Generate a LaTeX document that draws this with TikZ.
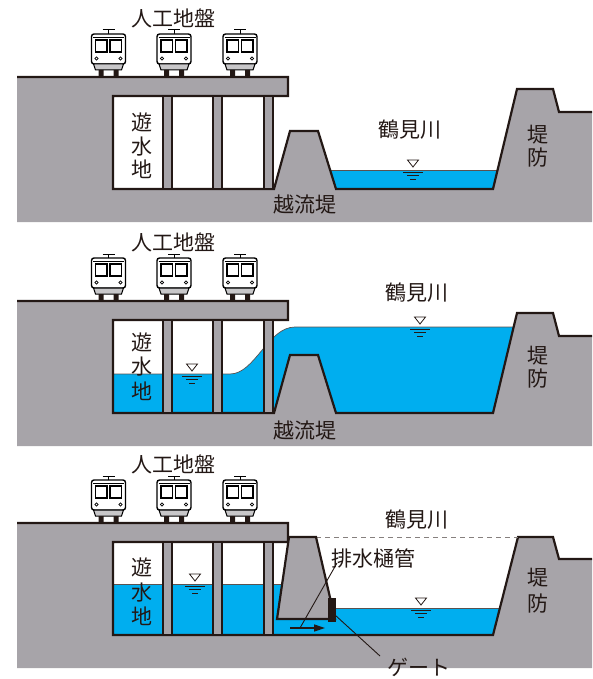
\documentclass[tikz,border=0pt]{standalone}
\usepackage{fontspec}
\newfontfamily\jp{Noto Sans CJK JP}
\usetikzlibrary{arrows.meta}
\definecolor{ground}{RGB}{167,164,169}
\definecolor{water}{RGB}{0,174,239}
\definecolor{ink}{RGB}{35,24,21}
\definecolor{skirt}{RGB}{200,199,201}

% three trains standing on the deck of the artificial ground
\newcommand\trainrow[1]{%
  \node[lbl] (deck#1) at (173,18.5) {人工地盤};
  \pic at (108.5,77) {train};
  \pic at (174,77) {train};
  \pic at (240,77) {train};
}
% support columns inside the retention basin
\newcommand\pillarset{%
  \foreach \px in {163,213,264} \draw[pillar] (\px,96) rectangle (\px+9,189);
}
% vertical label of the retention basin
\newcommand\pondlabel[4]{%
  \node[lbl] (yu#1) at (142,#2) {遊};
  \node[lbl] (sui#1) at (142,#3) {水};
  \node[lbl] (chi#1) at (142,#4) {地};
}

\begin{document}
\begin{tikzpicture}[x=1pt,y=-1pt,line join=miter,
  outline/.style={draw=ink,line width=2.2},
  earth/.style={fill=ground},
  pillar/.style={fill=ground,draw=ink,line width=2},
  lbl/.style={font=\jp\fontsize{21}{21}\selectfont,text=ink,inner sep=0},
  surface/.style={draw=ink!75,line width=0.7},
  train/.pic={
    \draw[line width=1] (-6,-47) -- (6,-47) (0,-47) -- (0,-43);
    \draw[fill=white,line width=1.4,rounded corners=2.5] (-17,-13) rectangle (17,-43);
    \draw[line width=0.7] (-15.5,-40) -- (15.5,-40);
    \draw[line width=1.2] (-13,-37) rectangle (-1.5,-25);
    \draw[line width=1.2] (1.5,-37) rectangle (13,-25);
    \draw[line width=0.8] (-12,-18.5) circle[radius=1.6] (12,-18.5) circle[radius=1.6];
    \draw[fill=skirt,line width=1] (-15,-13) -- (15,-13) -- (13,-7) -- (-13,-7) -- cycle;
    \fill[ink] (-10,-7) rectangle (-5,-0.5) (5,-7) rectangle (10,-0.5);
  },
  level/.pic={
    \draw[ink,line width=0.8] (-5.5,-10) -- (5.5,-10) -- (0,-3) -- cycle;
    \draw[ink,line width=0.9] (-10,2) -- (10,2) (-6,5.5) -- (6,5.5) (-3,9) -- (3,9);
  }]
\useasboundingbox (0,0) rectangle (592,679);

% ---------- normal water level ----------
\begin{scope}
  \fill[water] (320,170) rectangle (510,190);
  \draw[surface] (320,170) -- (510,170);
  \fill[earth] (17,77) -- (288,77) -- (288,96) -- (113,96) -- (113,189) -- (274,189)
    -- (290,131) -- (318,131) -- (336,189) -- (493,189) -- (517,89) -- (553,89)
    -- (559,112) -- (592,112) -- (592,222) -- (17,222) -- cycle;
  \draw[outline] (17,77) -- (288,77) -- (288,96) -- (113,96) -- (113,189) -- (274,189)
    -- (290,131) -- (318,131) -- (336,189) -- (493,189) -- (517,89) -- (553,89)
    -- (559,112) -- (592,112);
  \pillarset
  \pic at (413,170) {level};
  \trainrow{1}
  \pondlabel{1}{122}{147}{169}
  \node[lbl] (river1) at (410,130) {鶴見川};
  \node[lbl] (weir1) at (305,205) {越流堤};
  \node[lbl] (tei1) at (538,135) {堤};
  \node[lbl] (bo1) at (538,158) {防};
\end{scope}

% ---------- flood: water spills over the weir ----------
\begin{scope}[shift={(0,224)}]
  \fill[water] (113,150) -- (230,150) .. controls (255,150) and (268,103) .. (295,103)
    -- (530,103) -- (530,190) -- (113,190) -- cycle;
  \draw[surface] (113,150) -- (230,150) .. controls (255,150) and (268,103) .. (295,103)
    -- (530,103);
  \fill[earth] (17,77) -- (288,77) -- (288,96) -- (113,96) -- (113,189) -- (274,189)
    -- (290,131) -- (318,131) -- (336,189) -- (493,189) -- (517,89) -- (553,89)
    -- (559,112) -- (592,112) -- (592,222) -- (17,222) -- cycle;
  \draw[outline] (17,77) -- (288,77) -- (288,96) -- (113,96) -- (113,189) -- (274,189)
    -- (290,131) -- (318,131) -- (336,189) -- (493,189) -- (517,89) -- (553,89)
    -- (559,112) -- (592,112);
  \pillarset
  \pic at (192,150) {level};
  \pic at (420,103) {level};
  \trainrow{2}
  \pondlabel{2}{118}{143}{167}
  \node[lbl] (river2) at (417,69) {鶴見川};
  \node[lbl] (weir2) at (305,207) {越流堤};
  \node[lbl] (tei2) at (538,132) {堤};
  \node[lbl] (bo2) at (538,155) {防};
\end{scope}

% ---------- after the flood: drainage through the sluice pipe ----------
\begin{scope}[shift={(0,446)}]
  \fill[water] (113,138) -- (300,138) -- (300,162) -- (530,162) -- (530,190)
    -- (113,190) -- cycle;
  \draw[surface] (113,138) -- (300,138);
  \draw[surface] (330,162) -- (530,162);
  \fill[earth] (17,77) -- (288,77) -- (288,96) -- (113,96) -- (113,189) -- (493,189)
    -- (518,91) -- (553,91) -- (559,113) -- (592,113) -- (592,222) -- (17,222) -- cycle;
  \draw[outline] (17,77) -- (288,77) -- (288,96) -- (113,96) -- (113,189) -- (493,189)
    -- (518,91) -- (553,91) -- (559,113) -- (592,113);
  \draw[ink!55,line width=0.9,dash pattern=on 5 off 4] (316,91) -- (518,91);
  \pillarset
  \draw[outline,earth] (277,173) -- (289,91) -- (316,91) -- (335,173) -- cycle;
  \fill[ink] (328,152) rectangle (336,176);
  \coordinate (pipeIn) at (290,182);
  \coordinate (pipeOut) at (325,182);
  \draw[ink,line width=1.4,-{Triangle[length=11,width=7]}] (pipeIn) -- (pipeOut);
  \pic at (195,138) {level};
  \pic at (421,162) {level};
  \trainrow{3}
  \pondlabel{3}{121}{147}{170}
  \node[lbl] (river3) at (417,74) {鶴見川};
  \node[lbl] (pipe3) at (373,112) {排水樋管};
  \node[lbl] (gate3) at (419,221.5) {ゲート};
  \node[lbl] (tei3) at (538,132) {堤};
  \node[lbl] (bo3) at (538,158) {防};
  \coordinate (pipeTip) at (300,182);
  \coordinate (pipeLead) at (337,117);
  \coordinate (gateTip) at (335,169);
  \coordinate (gateLead) at (380,210);
  \draw[ink,line width=0.9] (pipeTip) -- (pipeLead);
  \draw[ink,line width=0.9] (gateTip) -- (gateLead);
\end{scope}
\end{tikzpicture}
\end{document}
